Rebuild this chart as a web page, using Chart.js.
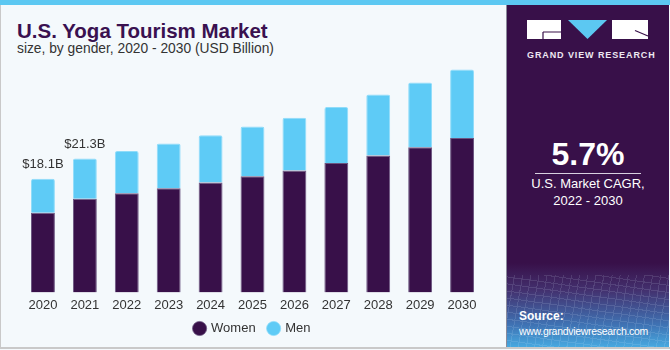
<!DOCTYPE html>
<html>
<head>
<meta charset="utf-8">
<script src="https://cdn.jsdelivr.net/npm/chart.js@4"></script>
<style>
  html, body { margin: 0; padding: 0; }
  body { width: 670px; height: 350px; position: relative; overflow: hidden; background: #f4f9fc; font-family: "Liberation Sans", Arial, sans-serif; }
  #topbar { position: absolute; left: 0; top: 0; width: 670px; height: 5px; background: #5cc8f2; }
  #frame { position: absolute; left: 0; top: 5px; width: 669px; height: 342px; border-left: 1px solid #c9c9c9; border-bottom: 2px solid #c9c9c9; }
  #title { position: absolute; left: 17px; top: 19px; font-size: 20.5px; font-weight: bold; color: #3a1150; white-space: nowrap; }
  #subtitle { position: absolute; left: 17px; top: 41px; font-size: 13.8px; color: #333; white-space: nowrap; }
  #chartBox { position: absolute; left: 0; top: 0; width: 505px; height: 350px; }
  #panel { position: absolute; left: 506px; top: 5px; width: 162px; height: 342px; border-left: 1px solid #8a8a9a;
    background: linear-gradient(to bottom, #381049 0px, #381049 258px, #43306e 285px, #3f73b4 320px, #47a9e0 342px); overflow: hidden; }
  #mesh { position: absolute; left: 0; top: 270px; width: 162px; height: 72px; opacity: 0.13;
    background:
      repeating-linear-gradient(100deg, transparent 0 7px, #dcecff 7px 8px),
      repeating-linear-gradient(8deg, transparent 0 6px, #dcecff 6px 7px); }
  #cagr { position: absolute; left: 0; width: 162px; top: 131px; text-align: center; color: #fff; font-size: 32px; font-weight: bold; }
  #rule { position: absolute; left: 28px; top: 168px; width: 106px; height: 1px; background: #d8d0e0; }
  #cagrText { position: absolute; left: 0; width: 162px; top: 170px; text-align: center; color: #fff; font-size: 13px; line-height: 17px; }
  #src { position: absolute; left: 12px; top: 304px; color: #fff; font-size: 10.5px; letter-spacing: -0.3px; line-height: 15px; white-space: nowrap; }
  #src b { font-size: 12px; letter-spacing: 0; font-weight: bold; }
  #logoText { position: absolute; left: 20px; top: 45px; width: 122px; text-align: center; color: #eee8f2; font-size: 9px; font-weight: bold; letter-spacing: 0.9px; white-space: nowrap; }
  #logo { position: absolute; left: 20px; top: 15px; }
</style>
</head>
<body>
<div id="topbar"></div>
<div id="frame"></div>
<div id="title">U.S. Yoga Tourism Market</div>
<div id="subtitle">size, by gender, 2020 - 2030 (USD Billion)</div>
<div id="chartBox"><canvas id="barChart" width="505" height="350"></canvas></div>
<div id="panel">
  <svg id="logo" width="122" height="20" viewBox="0 0 122 20">
    <rect x="0" y="0" width="34" height="19" fill="#fff"/>
    <path d="M16 12 L34 12 M16 12 L16 19" stroke="#381049" stroke-width="1.2" fill="none"/>
    <polygon points="41,0 80,0 60.5,19" fill="#5cc8f2"/>
    <rect x="85" y="0" width="36" height="19" fill="#fff"/>
    <path d="M108 10.5 L121 16" stroke="#381049" stroke-width="1.2" fill="none"/>
  </svg>
  <div id="logoText">GRAND VIEW RESEARCH</div>
  <div id="cagr">5.7%</div>
  <div id="rule"></div>
  <div id="cagrText">U.S. Market CAGR,<br>2022 - 2030</div>
  <div id="mesh"></div>
  <div id="src"><b>Source:</b><br>www.grandviewresearch.com</div>
</div>
<script>
const years = ['2020', '2021', '2022', '2023', '2024', '2025', '2026', '2027', '2028', '2029', '2030'];
const women = [12.7, 14.9, 15.8, 16.6, 17.5, 18.5, 19.4, 20.6, 21.8, 23.1, 24.6];
const men = [5.4, 6.4, 6.7, 7.1, 7.5, 7.9, 8.4, 8.9, 9.7, 10.3, 10.9];
const totalLabels = ['$18.1B', '$21.3B', '', '', '', '', '', '', '', '', ''];

const ctx = document.getElementById('barChart').getContext('2d');

// writes the total above the first bars
const totalsPlugin = {
  id: 'totals',
  afterDatasetsDraw(chart) {
    const meta = chart.getDatasetMeta(1);
    const c = chart.ctx;
    c.save();
    c.font = '13px "Liberation Sans", Arial, sans-serif';
    c.fillStyle = '#333';
    c.textAlign = 'center';
    c.textBaseline = 'middle';
    meta.data.forEach((bar, i) => {
      if (totalLabels[i]) c.fillText(totalLabels[i], bar.x, bar.y - 14);
    });
    c.restore();
  }
};

new Chart(ctx, {
  type: 'bar',
  data: {
    labels: years,
    datasets: [
      { label: 'Women', data: women, backgroundColor: '#381049', borderColor: '#6b5580', borderWidth: { left: 1, right: 1, top: 1, bottom: 0 } },
      { label: 'Men', data: men, backgroundColor: '#5ecbf6', borderColor: '#8fdcf9', borderWidth: { left: 1, right: 1, top: 1, bottom: 0 }, borderRadius: { topLeft: 2, topRight: 2 }, borderSkipped: 'bottom' }
    ]
  },
  options: {
    responsive: false,
    animation: false,
    layout: { padding: { left: 22, right: 22, top: 60, bottom: 5 } },
    datasets: { bar: { categoryPercentage: 1, barPercentage: 0.57 } },
    scales: {
      x: {
        stacked: true,
        grid: { display: false, drawTicks: false },
        border: { display: false },
        ticks: { color: '#333', font: { size: 13, family: '"Liberation Sans", Arial, sans-serif' }, padding: 5 },
        // legend padding is wider, so shrink the axis box to keep the bars down
        afterFit: (scale) => { scale.height = scale.height - 9; }
      },
      y: { stacked: true, display: false, min: 0, max: 37 }
    },
    plugins: {
      legend: {
        position: 'bottom',
        labels: {
          usePointStyle: true, pointStyle: 'circle', boxWidth: 10, boxHeight: 10, padding: 13,
          color: '#333', font: { size: 13, family: '"Liberation Sans", Arial, sans-serif' }
        }
      },
      tooltip: { enabled: false }
    }
  },
  plugins: [totalsPlugin]
});
</script>
</body>
</html>
